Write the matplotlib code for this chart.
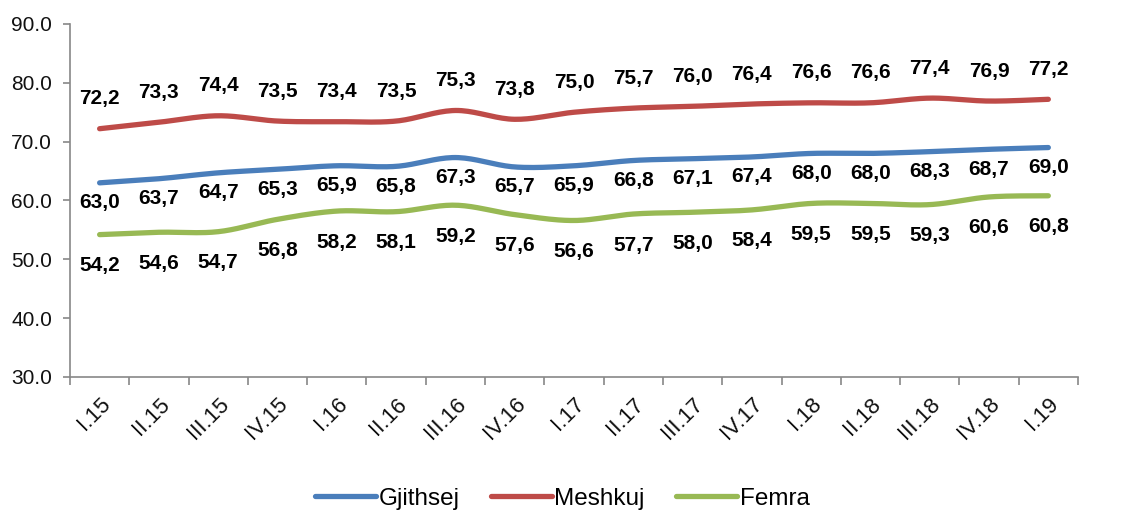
import numpy as np
import matplotlib
matplotlib.use("Agg")
import matplotlib.pyplot as plt
from matplotlib.lines import Line2D

plt.rcParams['font.family'] = ['Liberation Sans', 'DejaVu Sans']

categories = ["I.15", "II.15", "III.15", "IV.15", "I.16", "II.16", "III.16", "IV.16",
              "I.17", "II.17", "III.17", "IV.17", "I.18", "II.18", "III.18", "IV.18", "I.19"]
gjithsej = [63.0, 63.7, 64.7, 65.3, 65.9, 65.8, 67.3, 65.7, 65.9, 66.8, 67.1, 67.4, 68.0, 68.0, 68.3, 68.7, 69.0]
meshkuj = [72.2, 73.3, 74.4, 73.5, 73.4, 73.5, 75.3, 73.8, 75.0, 75.7, 76.0, 76.4, 76.6, 76.6, 77.4, 76.9, 77.2]
femra = [54.2, 54.6, 54.7, 56.8, 58.2, 58.1, 59.2, 57.6, 56.6, 57.7, 58.0, 58.4, 59.5, 59.5, 59.3, 60.6, 60.8]

series = [("Gjithsej", gjithsej, "#4A7EBB", 20),
          ("Meshkuj", meshkuj, "#BE4B48", -30),
          ("Femra", femra, "#98B954", 31)]


def smooth(x, y, n=20):
    # Catmull-Rom style rendering of the line (Excel "smoothed line")
    x = np.asarray(x, float)
    y = np.asarray(y, float)
    px = np.concatenate([[x[0]], x, [x[-1]]])
    py = np.concatenate([[y[0]], y, [y[-1]]])
    xs, ys = [], []
    t = np.linspace(0, 1, n)
    for i in range(1, len(px) - 2):
        p0, p1, p2, p3 = (np.array([px[j], py[j]]) for j in (i - 1, i, i + 1, i + 2))
        c1 = p1 + (p2 - p0) / 6
        c2 = p2 - (p3 - p1) / 6
        b = ((1 - t) ** 3)[:, None] * p1 + (3 * (1 - t) ** 2 * t)[:, None] * c1 + \
            (3 * (1 - t) * t ** 2)[:, None] * c2 + (t ** 3)[:, None] * p2
        xs.extend(b[:, 0])
        ys.extend(b[:, 1])
    return np.array(xs), np.array(ys)


fig = plt.figure(figsize=(11.25, 5.17), dpi=100)
ax = fig.add_axes([0.0622, 0.2708, 0.8960, 0.6828])

x = np.arange(len(categories))
for name, vals, col, off in series:
    sx, sy = smooth(x, vals)
    ax.plot(sx, sy, color=col, lw=3.8, solid_capstyle='round', label=name)
    for xi, v in zip(x, vals):
        ax.annotate(f"{v:.1f}".replace(".", ","), (xi, v), xytext=(0, -off * 0.72),
                    textcoords='offset points', ha='center', va='center',
                    fontsize=15, fontweight='bold', color='black')

ax.set_xlim(-0.5, len(categories) - 0.5)
ax.set_ylim(30, 90)
ax.set_yticks(np.arange(30, 91, 10))
ax.set_yticklabels([f"{v:.1f}" for v in np.arange(30, 91, 10)], fontsize=15, color='#111111')
ax.set_xticks(x)
ax.set_xticklabels(categories, rotation=45, ha='right', va='top', fontsize=16,
                   rotation_mode='anchor', color='#111111')
ax.set_xticks(np.arange(-0.5, len(categories), 1), minor=True)
ax.tick_params(axis='x', which='major', length=0, pad=12)
ax.tick_params(axis='x', which='minor', length=6, color='#888888', width=1.2)
ax.tick_params(axis='y', length=5, color='#888888', width=1.2, pad=8)
for s in ['top', 'right']:
    ax.spines[s].set_visible(False)
for s in ['left', 'bottom']:
    ax.spines[s].set_color('#888888')
    ax.spines[s].set_linewidth(1.2)

handles = [Line2D([0], [0], color=c, lw=3.8, solid_capstyle='round') for _, _, c, _ in series]
fig.legend(handles, [s[0] for s in series], loc='lower center', ncol=3,
           bbox_to_anchor=(0.5, -0.028), frameon=False, fontsize=17.5,
           handlelength=2.5, handletextpad=0.1, columnspacing=1.3)

fig.savefig("out.png", dpi=100)
